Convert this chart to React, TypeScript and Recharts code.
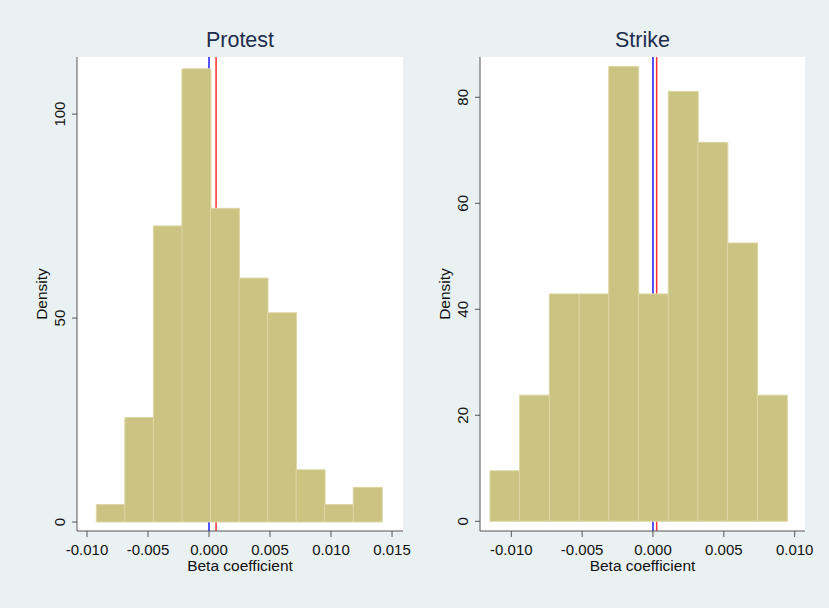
import React from "react";
import { ComposedChart, Bar, XAxis, YAxis, CartesianGrid, ReferenceLine } from "recharts";

// bin midpoints and densities
const protestBins = [-0.00807, -0.00573, -0.00339, -0.00105, 0.00129, 0.00363, 0.00597, 0.00831, 0.01065, 0.01299];
const protestDensity = [4.27, 25.6, 72.6, 111.1, 76.9, 59.8, 51.3, 12.8, 4.27, 8.5];
const protestXTicks = [-0.01, -0.005, 0, 0.005, 0.01, 0.015];
const protestYTicks = [0, 50, 100];
const protestLines = { blue: 0, red: 0.00058 };

const strikeBins = [-0.01046, -0.00837, -0.00627, -0.00417, -0.00208, 0.00002, 0.00212, 0.00421, 0.00631, 0.00841];
const strikeDensity = [9.54, 23.8, 42.9, 42.9, 85.8, 42.9, 81.1, 71.5, 52.5, 23.8];
const strikeXTicks = [-0.01, -0.005, 0, 0.005, 0.01];
const strikeYTicks = [0, 20, 40, 60, 80];
const strikeLines = { blue: 0, red: 0.00026 };

const FONT = "'Liberation Sans', Arial, sans-serif";
const BG = "#eaf1f3";

function YTick(props: any) {
  const { x, y, payload } = props;
  return (
    <text x={x} y={y} transform={`rotate(-90 ${x} ${y})`} textAnchor="middle" fontSize={15} fill="#111" fontFamily={FONT}>
      {payload.value}
    </text>
  );
}

function Panel(props: any) {
  const { title, bins, density, xTicks, yTicks, xDomain, yDomain, lines, width, marginLeft, marginRight } = props;
  const data = bins.map((b: number, i: number) => ({ mid: b, density: density[i] }));
  const plotLeft = marginLeft + 40;
  const plotRight = width - marginRight;
  return (
    <div style={{ position: "relative", width, height: 608 }}>
      <div
        style={{
          position: "absolute",
          left: plotLeft,
          width: plotRight - plotLeft,
          top: 27,
          textAlign: "center",
          fontSize: 21.5,
          fontFamily: FONT,
          color: "#1f2d4f",
          lineHeight: "26px",
        }}
      >
        {title}
      </div>
      <ComposedChart
        width={width}
        height={608}
        data={data}
        barCategoryGap={0}
        margin={{ top: 57, right: marginRight, left: marginLeft, bottom: 37 }}
      >
        <rect x={plotLeft} y={57} width={plotRight - plotLeft} height={474} fill="#ffffff" />
        <CartesianGrid vertical={false} stroke="#eaf1f3" strokeWidth={1.5} />
        <XAxis
          type="number"
          dataKey="mid"
          domain={xDomain}
          allowDataOverflow
          ticks={xTicks}
          tickFormatter={(v: number) => v.toFixed(3)}
          tick={{ fontSize: 15, fill: "#111", fontFamily: FONT }}
          tickSize={6}
          tickMargin={7}
          height={40}
          stroke="#555"
          label={({ viewBox }: any) => (
            <text
              x={viewBox.x + viewBox.width / 2}
              y={viewBox.y + 40}
              textAnchor="middle"
              fontSize={15.5}
              fill="#111"
              fontFamily={FONT}
            >
              Beta coefficient
            </text>
          )}
        />
        <YAxis
          type="number"
          domain={yDomain}
          allowDataOverflow
          ticks={yTicks}
          tick={<YTick />}
          tickSize={5}
          tickMargin={7}
          width={40}
          stroke="#555"
          label={({ viewBox }: any) => {
            const ax = viewBox.x + viewBox.width - 30;
            const cy = viewBox.y + viewBox.height / 2;
            return (
              <text x={ax} y={cy} transform={`rotate(-90 ${ax} ${cy})`} textAnchor="middle" fontSize={15.5} fill="#111" fontFamily={FONT}>
                Density
              </text>
            );
          }}
        />
        <ReferenceLine x={lines.blue} stroke="#1a1aff" strokeWidth={1.5} zIndex={50} />
        <ReferenceLine x={lines.red} stroke="#ff3030" strokeWidth={1.5} zIndex={50} />
        <Bar dataKey="density" fill="#cbc382" stroke="#ddd7a4" strokeWidth={1} isAnimationActive={false} />
      </ComposedChart>
    </div>
  );
}

export default function App() {
  return (
    <div
      style={{
        position: "absolute",
        left: 0,
        top: 0,
        width: 829,
        height: 608,
        background: BG,
        display: "flex",
        boxSizing: "border-box",
      }}
    >
      <Panel
        title="Protest"
        bins={protestBins}
        density={protestDensity}
        xTicks={protestXTicks}
        yTicks={protestYTicks}
        xDomain={[-0.01082, 0.0159]}
        yDomain={[-2.2, 114]}
        lines={protestLines}
        width={415}
        marginLeft={37}
        marginRight={12}
      />
      <Panel
        title="Strike"
        bins={strikeBins}
        density={strikeDensity}
        xTicks={strikeXTicks}
        yTicks={strikeYTicks}
        xDomain={[-0.01221, 0.01073]}
        yDomain={[-1.83, 87.6]}
        lines={strikeLines}
        width={414}
        marginLeft={25}
        marginRight={24}
      />
    </div>
  );
}
